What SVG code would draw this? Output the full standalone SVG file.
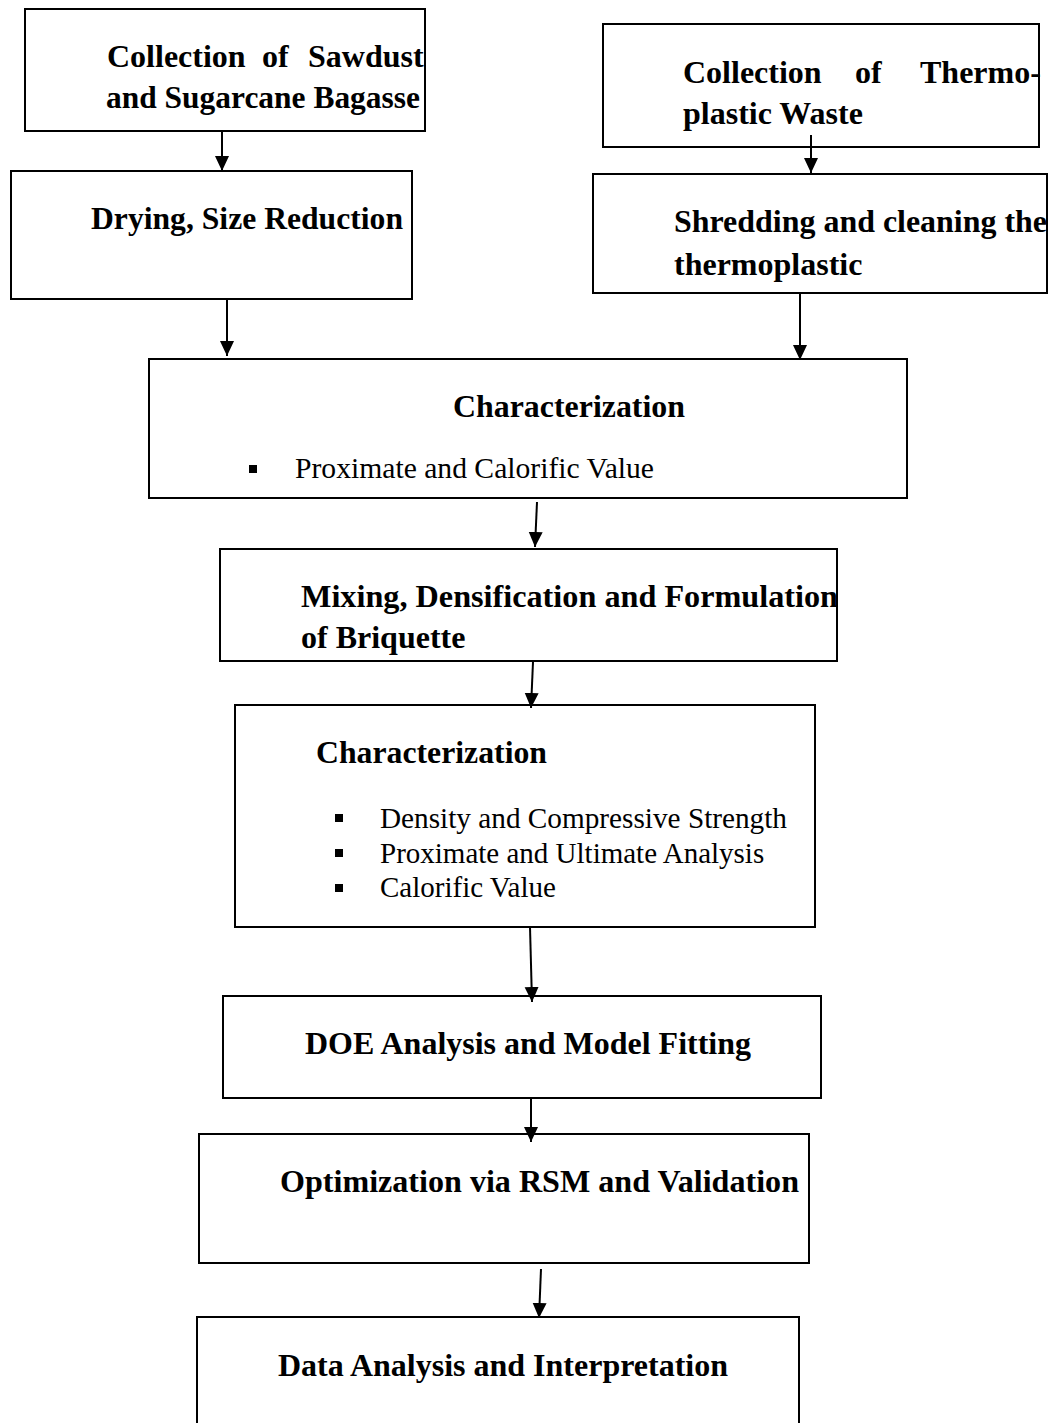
<svg xmlns="http://www.w3.org/2000/svg" width="1054" height="1423" viewBox="0 0 1054 1423">
<style>
.box{fill:#fff;stroke:#000;stroke-width:2}
.b{font-family:"Liberation Serif","Times New Roman",serif;font-weight:bold;font-size:32px;fill:#000}
.r{font-family:"Liberation Serif","Times New Roman",serif;font-size:29px;fill:#000}
.c{stroke:#000;stroke-width:2;fill:none;marker-end:url(#ah)}
.bul{fill:#000}
</style>
<defs>
<marker id="ah" markerUnits="userSpaceOnUse" markerWidth="16" markerHeight="16" refX="15" refY="7" orient="auto">
<path d="M0,0 L15,7 L0,14 z" fill="#000"/>
</marker>
</defs>
<rect width="1054" height="1423" fill="#fff"/>
<g id="n1">
<rect class="box" x="25" y="9" width="400" height="122"/>
<text class="b" y="67"><tspan x="107">Collection</tspan><tspan x="262">of</tspan><tspan x="308">Sawdust</tspan></text>
<text class="b" x="106" y="108" textLength="314" lengthAdjust="spacingAndGlyphs">and Sugarcane Bagasse</text>
</g>
<g id="n2">
<rect class="box" x="11" y="171" width="401" height="128"/>
<text class="b" x="91" y="229" textLength="312" lengthAdjust="spacingAndGlyphs">Drying, Size Reduction</text>
</g>
<g id="n3">
<rect class="box" x="603" y="24" width="436" height="123"/>
<text class="b" y="83"><tspan x="683">Collection</tspan><tspan x="855">of</tspan><tspan x="920">Thermo-</tspan></text>
<text class="b" x="683" y="124">plastic Waste</text>
</g>
<g id="n4">
<rect class="box" x="593" y="174" width="454" height="119"/>
<text class="b" x="674" y="232" textLength="373" lengthAdjust="spacingAndGlyphs">Shredding and cleaning the</text>
<text class="b" x="674" y="275">thermoplastic</text>
</g>
<g id="n5">
<rect class="box" x="149" y="359" width="758" height="139"/>
<text class="b" x="453" y="417" textLength="232" lengthAdjust="spacingAndGlyphs">Characterization</text>
<rect class="bul" x="249" y="465" width="8" height="8"/>
<text class="r" x="295" y="478" textLength="359" lengthAdjust="spacingAndGlyphs">Proximate and Calorific Value</text>
</g>
<g id="n6">
<rect class="box" x="220" y="549" width="617" height="112"/>
<text class="b" x="301" y="607" textLength="537" lengthAdjust="spacingAndGlyphs">Mixing, Densification and Formulation</text>
<text class="b" x="301" y="648">of Briquette</text>
</g>
<g id="n7">
<rect class="box" x="235" y="705" width="580" height="222"/>
<text class="b" x="316" y="763" textLength="231" lengthAdjust="spacingAndGlyphs">Characterization</text>
<rect class="bul" x="335" y="814" width="8" height="8"/>
<text class="r" x="380" y="828" textLength="407" lengthAdjust="spacingAndGlyphs">Density and Compressive Strength</text>
<rect class="bul" x="335" y="849" width="8" height="8"/>
<text class="r" x="380" y="863">Proximate and Ultimate Analysis</text>
<rect class="bul" x="335" y="884" width="8" height="8"/>
<text class="r" x="380" y="897">Calorific Value</text>
</g>
<g id="n8">
<rect class="box" x="223" y="996" width="598" height="102"/>
<text class="b" x="305" y="1054" textLength="446" lengthAdjust="spacingAndGlyphs">DOE Analysis and Model Fitting</text>
</g>
<g id="n9">
<rect class="box" x="199" y="1134" width="610" height="129"/>
<text class="b" x="280" y="1192" textLength="519" lengthAdjust="spacingAndGlyphs">Optimization via RSM and Validation</text>
</g>
<g id="n10">
<rect class="box" x="197" y="1317" width="602" height="130"/>
<text class="b" x="278" y="1376" textLength="450" lengthAdjust="spacingAndGlyphs">Data Analysis and Interpretation</text>
</g>
<g id="connectors">
<line class="c" x1="222" y1="131" x2="222" y2="171"/>
<line class="c" x1="227" y1="299" x2="227" y2="356"/>
<line class="c" x1="811" y1="135" x2="811" y2="173"/>
<line class="c" x1="800" y1="293" x2="800" y2="360"/>
<line class="c" x1="537" y1="502" x2="535" y2="547"/>
<line class="c" x1="533" y1="662" x2="531" y2="708"/>
<line class="c" x1="530" y1="927" x2="532" y2="1002"/>
<line class="c" x1="531" y1="1098" x2="531" y2="1142"/>
<line class="c" x1="541" y1="1269" x2="539" y2="1318"/>
</g>
</svg>
